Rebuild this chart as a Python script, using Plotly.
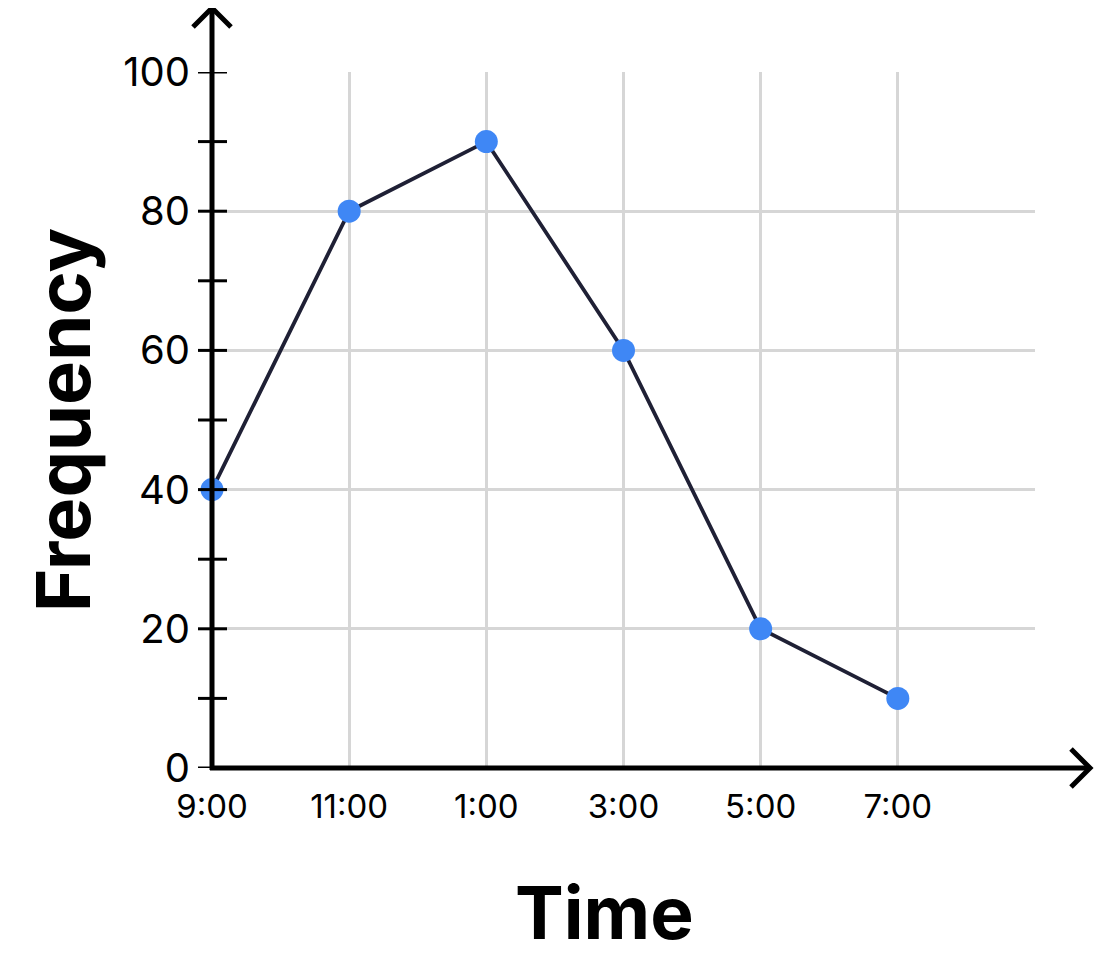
import plotly.graph_objects as go

# ---- data ----
hours = [9, 11, 13, 15, 17, 19]
time_labels = ["9:00", "11:00", "1:00", "3:00", "5:00", "7:00"]
frequency = [40, 80, 90, 60, 20, 10]
grid_hours = [9, 11, 13, 15, 17, 19, 21]
y_major = [0, 20, 40, 60, 80, 100]
y_minor = [10, 30, 50, 70, 90]

OFF = 8  # page body margin
W, H = 1104 - OFF, 960 - OFF
# plot area in reference-screen pixels
X0, X1, Y0, Y1 = 212, 1035, 72, 768
L, R, T, B = X0 - OFF, W - (X1 - OFF), Y0 - OFF, H - (Y1 - OFF)
PW, PH = X1 - X0, Y1 - Y0

def px(xp):
    return (xp - X0) / PW

def py(yp):
    return (Y1 - yp) / PH

FONT = "Inter, Lato, sans-serif"
fig = go.Figure()
fig.add_trace(go.Scatter(
    x=hours, y=frequency, mode="lines+markers",
    line=dict(color="#1f2035", width=3.8),
    marker=dict(color="#3f87f5", size=23),
    cliponaxis=False, showlegend=False,
))

shapes = []
shapes.append(dict(type="line", xref="paper", yref="paper", x0=px(210), x1=px(1090),
                   y0=0, y1=0, line=dict(color="black", width=5)))
shapes.append(dict(type="line", xref="paper", yref="paper", x0=0, x1=0,
                   y0=py(770), y1=py(7), line=dict(color="black", width=5)))
shapes.append(dict(type="path", xref="paper", yref="paper",
                   path=f"M {px(1071)} {py(749)} L {px(1090)} {py(768)} L {px(1071)} {py(787)}",
                   line=dict(color="black", width=5)))
shapes.append(dict(type="path", xref="paper", yref="paper",
                   path=f"M {px(193)} {py(27)} L {px(212)} {py(8)} L {px(231)} {py(27)}",
                   line=dict(color="black", width=5)))
for v in y_major + y_minor:
    shapes.append(dict(type="line", xref="paper", yref="y", x0=px(198), x1=px(227),
                       y0=v, y1=v, line=dict(color="black", width=3)))

fig.update_layout(
    width=W, height=H,
    margin=dict(l=L, r=R, t=T, b=B),
    paper_bgcolor="white", plot_bgcolor="white",
    shapes=shapes,
    xaxis=dict(range=[9, 21], tickvals=grid_hours, ticktext=time_labels + [""],
               showgrid=True, gridcolor="#d6d6d6", gridwidth=2.5,
               zeroline=False, showline=False,
               ticks="outside", ticklen=9, tickcolor="rgba(0,0,0,0)",
               tickfont=dict(family=FONT, size=33, color="black")),
    yaxis=dict(range=[0, 100], tickvals=y_major,
               showgrid=True, gridcolor="#d6d6d6", gridwidth=2.5,
               zeroline=False, showline=False,
               ticks="outside", ticklen=13, tickcolor="rgba(0,0,0,0)",
               tickfont=dict(family=FONT, size=40, color="black")),
    annotations=[
        dict(text="<b>Time</b>", xref="paper", yref="paper", x=px(604), y=py(912),
             xanchor="center", yanchor="middle", showarrow=False,
             font=dict(family=FONT, size=73, color="black")),
        dict(text="<b>Frequency</b>", xref="paper", yref="paper", x=px(63), y=py(420),
             xanchor="center", yanchor="middle", showarrow=False, textangle=-90,
             font=dict(family=FONT, size=74, color="black")),
    ],
)
fig.write_html("out.html")
